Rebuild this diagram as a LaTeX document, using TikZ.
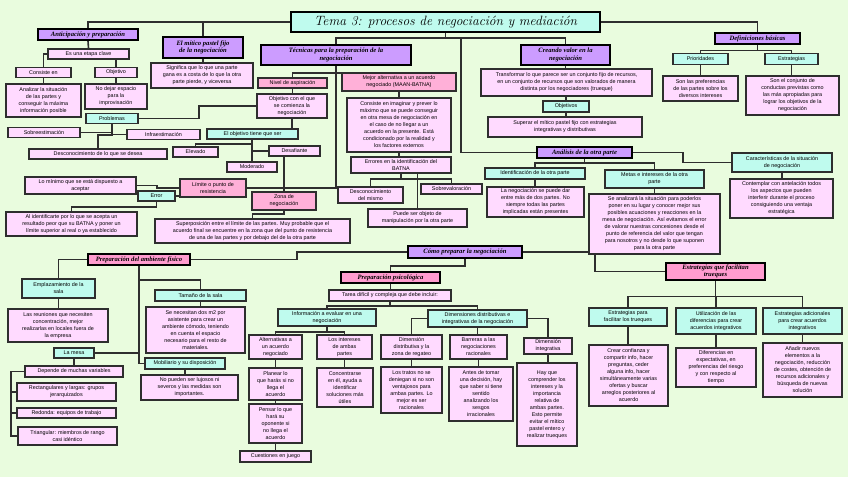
\documentclass[tikz,border=0pt]{standalone}
\usepackage{fontspec}
\newfontfamily\bodyf{Liberation Sans}
\newfontfamily\headf{Liberation Serif}
\usetikzlibrary{calc}
\definecolor{bgC}{HTML}{E9FCDE}
\definecolor{pinkC}{HTML}{FFDAFF}
\definecolor{cyanC}{HTML}{BFFBEE}
\definecolor{roseC}{HTML}{FFB0D8}
\definecolor{purpC}{HTML}{CC9CFF}
\definecolor{hpinkC}{HTML}{FF9CCF}
\definecolor{lineC}{HTML}{2E2E2E}
\pgfdeclarelayer{bg}
\pgfsetlayers{bg,main}
\newcommand\mybox[6]{\node[#1,minimum width=#4pt,minimum height=#5pt] (#2) at (#3) {#6};}
\tikzset{
 base/.style={draw=lineC, line width=1.5pt, align=center, inner sep=0pt, font=\bodyf\fontsize{5.4}{7}\selectfont},
 pbox/.style={base, fill=pinkC},
 cbox/.style={base, fill=cyanC},
 rbox/.style={base, fill=roseC},
 hbox/.style={draw=black, line width=1.8pt, fill=purpC, align=center, inner sep=0pt, font=\headf\bfseries\itshape\fontsize{6.6}{7.4}\selectfont},
 hpbox/.style={hbox, fill=hpinkC},
 tbox/.style={draw=black, line width=1.8pt, fill=cyanC, align=center, inner sep=0pt, font=\itshape\fontsize{13.5}{15}\selectfont},
 conn/.style={draw=lineC, line width=1.6pt},
}
\begin{document}
\begin{tikzpicture}[x=1pt,y=-1pt]
\useasboundingbox (0,0) rectangle (848,477);
% title
\node[tbox, minimum width=309pt, minimum height=20pt] (title) at (445.5,22) {Tema 3: procesos de negociación y mediación};
% headers
\mybox{hbox}{anti}{88,34.5}{100}{11}{Anticipación y preparación}
\mybox{hbox}{pastel}{203,47.5}{80}{21}{El mítico pastel fijo\\de la negociación}
\mybox{hbox}{tec}{336,55}{150}{20}{Técnicas para la preparación de la\\negociación}
\mybox{hbox}{crea}{565.5,55}{89}{20}{Creando valor en la\\negociación}
\mybox{hbox}{defi}{757.5,38.5}{85}{11}{Definiciones básicas}
\mybox{hbox}{anal}{584.5,152.5}{95}{11}{Análisis de la otra parte}
\mybox{hbox}{como}{465,252}{114}{12}{Cómo preparar la negociación}
\mybox{hpbox}{amb}{139,259.5}{102}{11}{Preparación del ambiente físico}
\mybox{hpbox}{psico}{390.5,277.5}{99}{11}{Preparación psicológica}
\mybox{hpbox}{estr}{715.5,271.5}{99}{17}{Estrategias que facilitan\\trueques}
% rose
\mybox{rbox}{nivel}{292.5,83}{69}{10}{Nivel de aspiración}
\mybox{rbox}{mejor}{399,82}{114}{18}{Mejor alternativa a un acuerdo\\negociado (MAAN-BATNA)}
\mybox{rbox}{limite}{213,188}{66}{18}{Límite o punto de\\resistencia}
\mybox{rbox}{zona}{284,201}{64}{18}{Zona de\\negociación}
% anticipacion
\mybox{pbox}{etapa}{88.5,54}{81}{10}{Es una etapa clave}
\mybox{pbox}{consiste}{43.5,72.5}{55}{10}{Consiste en}
\mybox{pbox}{objetivo}{116,72.5}{42}{10}{Objetivo}
\mybox{pbox}{analizar}{43.5,100.5}{75}{33}{Analizar la situación\\de las partes y\\conseguir la máxima\\información posible}
\mybox{pbox}{nodejar}{116,96.5}{62}{25}{No dejar espacio\\para la\\improvisación}
\mybox{cbox}{problemas}{112,118.5}{52}{10}{Problemas}
\mybox{pbox}{sobre}{44,132.5}{72}{10}{Sobreestimación}
\mybox{pbox}{infra}{163.5,134.5}{73}{10}{Infraestimación}
\mybox{pbox}{desco}{98,154}{138}{10}{Desconocimiento de lo que se desea}
% pastel
\mybox{pbox}{signif}{202,75.5}{102}{25}{Significa que lo que una parte\\gana es a costa de lo que la otra\\parte pierde, y viceversa}
% tecnicas
\mybox{pbox}{objcom}{292,106}{70}{24}{Objetivo con el que\\se comienza la\\negociación}
\mybox{cbox}{elobj}{252.5,134}{91}{10}{El objetivo tiene que ser}
\mybox{pbox}{elevado}{195.5,152}{45}{10}{Elevado}
\mybox{pbox}{desaf}{294.5,151}{51}{10}{Desafiante}
\mybox{pbox}{moder}{252,167}{50}{10}{Moderado}
\mybox{pbox}{consmejor}{399,125}{104}{54}{Consiste en imaginar y prever lo\\máximo que se puede conseguir\\en otra mesa de negociación en\\el caso de no llegar a un\\acuerdo en la presente. Está\\condicionado por la realidad y\\los factores externos}
\mybox{pbox}{errores}{401,165}{100}{16}{Errores en la identificación del\\BATNA}
\mybox{pbox}{descmismo}{370.5,195}{65}{16}{Desconocimiento\\del mismo}
\mybox{pbox}{sobreval}{451.5,189}{61}{10}{Sobrevaloración}
\mybox{pbox}{puede}{417.5,218}{99}{18}{Puede ser objeto de\\manipulación por la otra parte}
\mybox{pbox}{minimo}{80.5,185.5}{111}{17}{Lo mínimo que se está dispuesto a\\aceptar}
\mybox{cbox}{error}{156.5,196}{37}{10}{Error}
\mybox{pbox}{alident}{71.5,224}{131}{24}{Al identificarte por lo que se acepta un\\resultado peor que su BATNA y poner un\\límite superior al real o ya establecido}
\mybox{pbox}{superp}{252.5,231}{195}{24}{Superposición entre el límite de las partes. Muy probable que el\\acuerdo final se encuentre en la zona que del punto de resistencia\\de una de las partes y por debajo del de la otra parte}
% creando valor
\mybox{pbox}{transf}{566.5,82.5}{171}{27}{Transformar lo que parece ser un conjunto fijo de recursos,\\en un conjunto de recursos que son valorados de manera\\distinta por los negociadores (trueque)}
\mybox{cbox}{objetivos}{566,106.5}{46}{11}{Objetivos}
\mybox{pbox}{superar}{565,127}{154}{20}{Superar el mítico pastel fijo con estrategias\\integrativas y distributivas}
% definiciones
\mybox{cbox}{prior}{700.5,59}{55}{11}{Prioridades}
\mybox{cbox}{estrat}{791.5,59}{53}{11}{Estrategias}
\mybox{pbox}{sonpref}{700.5,88.5}{75}{25}{Son las preferencias\\de las partes sobre los\\diversos intereses}
\mybox{pbox}{sonconj}{792.5,95.5}{93}{39}{Son el conjunto de\\conductas previstas como\\las más apropiadas para\\lograr los objetivos de la\\negociación}
% analisis
\mybox{cbox}{ident}{535,173.5}{100}{11}{Identificación de la otra parte}
\mybox{cbox}{metas}{654.5,179}{99}{18}{Metas e intereses de la otra\\parte}
\mybox{cbox}{caract}{782,162.5}{100}{19}{Características de la situación\\de negociación}
\mybox{pbox}{lanego}{535.5,202}{97}{30}{La negociación se puede dar\\entre más de dos partes. No\\siempre todas las partes\\implicadas están presentes}
\mybox{pbox}{seanal}{654.5,224}{131}{60}{Se analizará la situación para poderlos\\poner en su lugar y conocer mejor sus\\posibles acuaciones y reacciones en la\\mesa de negociación. Así evitamos el error\\de valorar nuestras concesiones desde el\\punto de referencia del valor que tengan\\para nosotros y no desde lo que suponen\\para la otra parte}
\mybox{pbox}{contem}{781.5,198.5}{103}{39}{Contemplar con antelación todos\\los aspectos que pueden\\interferir durante el proceso\\consiguiendo una ventaja\\estratégica}
% ambiente fisico
\mybox{cbox}{empl}{58.5,288.5}{73}{19}{Emplazamiento de la\\sala}
\mybox{pbox}{reun}{58,325.5}{100}{33}{Las reuniones que necesiten\\concentración, mejor\\realizarlas en locales fuera de\\la empresa}
\mybox{cbox}{tam}{200.5,295.5}{91}{11}{Tamaño de la sala}
\mybox{pbox}{senec}{195.5,330}{99}{46}{Se necesitan dos m2 por\\asistente para crear un\\ambiente cómodo, teniendo\\en cuenta el espacio\\necesario para el resto de\\materiales.}
\mybox{cbox}{mesa}{74,353}{40}{10}{La mesa}
\mybox{cbox}{mobil}{185,363.5}{80}{11}{Mobiliario y su disposición}
\mybox{pbox}{nopued}{189.5,387.5}{97}{25}{No pueden ser lujosos ni\\severos y las medidas son\\importantes.}
\mybox{pbox}{depende}{74,371.5}{98}{11}{Depende de muchas variables}
\mybox{pbox}{rect}{66.5,392}{99}{18}{Rectangulares y largas: grupos\\jerarquizados}
\mybox{pbox}{redonda}{66.5,413}{99}{10}{Redonda: equipos de trabajo}
\mybox{pbox}{triang}{67.5,436}{99}{18}{Triangular: miembros de rango\\casi idéntico}
% psicologica
\mybox{pbox}{tarea}{390,295.5}{122}{11}{Tarea difícil y compleja que debe incluir:}
\mybox{cbox}{info}{327,317.5}{98}{17}{Información a evaluar en una\\negociación}
\mybox{cbox}{dims}{477.5,318.5}{99}{17}{Dimensiones distributivas e\\integrativas de la negociación}
\mybox{pbox}{altern}{275.5,347}{53}{24}{Alternativas a\\un acuerdo\\negociado}
\mybox{pbox}{losint}{344.5,347}{55}{24}{Los intereses\\de ambas\\partes}
\mybox{pbox}{planear}{275.5,384}{53}{32}{Planear lo\\que harás si no\\llega el\\acuerdo}
\mybox{pbox}{pensar}{275.5,423.5}{53}{39}{Pensar lo que\\hará su\\oponente si\\no llega el\\acuerdo}
\mybox{pbox}{cuest}{275.5,456.5}{71}{11}{Cuestiones en juego}
\mybox{pbox}{concen}{345,387.5}{56}{39}{Concentrarse\\en él, ayuda a\\identificar\\soluciones más\\útiles}
\mybox{pbox}{dimdis}{411.5,347}{61}{24}{Dimensión\\distributiva y la\\zona de regateo}
\mybox{pbox}{tratos}{411.5,390}{61}{46}{Los tratos no se\\deniegan si no son\\ventajosos para\\ambas partes. Lo\\mejor es ser\\racionales}
\mybox{pbox}{barr}{478.5,347}{57}{24}{Barreras a las\\negociaciones\\racionales}
\mybox{pbox}{antes}{481,394}{64}{54}{Antes de tomar\\una decisión, hay\\que saber si tiene\\sentido\\analizando los\\sesgos\\irracionales}
\mybox{pbox}{dimint}{548,346}{48}{16}{Dimensión\\integrativa}
\mybox{pbox}{hayque}{547,404.5}{60}{83}{Hay que\\comprender los\\intereses y la\\importancia\\relativa de\\ambas partes.\\Esto permite\\evitar el mítico\\pastel entero y\\realizar trueques}
% estrategias
\mybox{cbox}{estpara}{628,317}{78}{18}{Estrategias para\\facilitar los trueques}
\mybox{cbox}{util}{716,321}{80}{26}{Utilización de las\\diferencias para crear\\acuerdos integrativos}
\mybox{cbox}{estad}{802.5,321}{79}{26}{Estrategias adicionales\\para crear acuerdos\\integrativos}
\mybox{pbox}{crear}{628.5,375.5}{79}{61}{Crear confianza y\\compartir info, hacer\\preguntas, ceder\\alguna info, hacer\\simultáneamente varias\\ofertas y buscar\\arreglos posteriores al\\acuerdo}
\mybox{pbox}{difer}{716,367.5}{80}{39}{Diferencias en\\expectativas, en\\preferencias del riesgo\\y con respecto al\\tiempo}
\mybox{pbox}{anadir}{802.5,370}{79}{54}{Añadir nuevos\\elementos a la\\negociación, reducción\\de costes, obtención de\\recursos adicionales y\\búsqueda de nuevas\\solución}
\coordinate (j1) at (461,37);
\coordinate (mtop) at (11,371.5);
\coordinate (mbot) at (11,436);
\begin{pgfonlayer}{bg}
\fill[bgC] (0,0) rectangle (848,477);
% title
\draw[conn] (title.west) -| (anti.north);
\draw[conn] (title.west) -| (pastel.north);
\draw[conn] (title.east) -| (defi.north);
\draw[conn] (title.south) -- ++(0,5) -| (tec.north);
\draw[conn] (title.south) -- ++(0,5) -| (crea.north);
\draw[conn] (j1) |- (anal.west);
% anticipacion
\draw[conn] (anti.south) -- (etapa.north);
\draw[conn] (etapa.west) -| (consiste.north);
\draw[conn] (objetivo.north) -- (objetivo.north |- etapa.south);
\draw[conn] (consiste.south) -- (analizar.north);
\draw[conn] (objetivo.south) -- (nodejar.north);
\draw[conn] (problemas.east) -- ++(60,0) |- (objcom.west);
\draw[conn] (problemas.south) |- (sobre.east);
\draw[conn] (problemas.south) |- (infra.west);
\draw[conn] (problemas.south) -- ++(0,10.5) -| (desco.north);
% pastel
\draw[conn] (pastel.south) -- (pastel.south |- signif.north);
% tecnicas
\draw[conn] (tec.south) -- ++(0,7) -| (nivel.north);
\draw[conn] (tec.south) -- ++(0,7) -| (mejor.north);
\draw[conn] (nivel.south) -- (nivel.south |- objcom.north);
\draw[conn] (objcom.south) -- (objcom.south |- elobj.north);
\draw[conn] (elobj.south) -- ++(0,4) -| (elevado.north);
\draw[conn] (elobj.south) |- (desaf.west);
\draw[conn] (moder.north |- elobj.south) -- (moder.north);
\draw[conn] (tec.south) |- (limite.east);
\draw[conn] (zona.north) -- (zona.north |- desaf.south);
\draw[conn] (limite.west) -- ++(-22,0) |- (minimo.east);
\draw[conn] (error.east) -- (error.east -| limite.west);
\draw[conn] (error.south) -- ++(0,5) -| (alident.north);
\draw[conn] (zona.south) -- ++(0,3) -| (superp.north);
\draw[conn] (mejor.south) -- (consmejor.north);
\draw[conn] (consmejor.south) -- (consmejor.south |- errores.north);
\draw[conn] (errores.south) -- ++(0,5) -| (descmismo.north);
\draw[conn] (errores.south) -- ++(0,5) -| (sobreval.north);
\draw[conn] (puede.north) -- (puede.north |- errores.south);
% creando valor
\draw[conn] (crea.south) -- (crea.south |- transf.north);
\draw[conn] (objetivos.north |- transf.south) -- (objetivos.north);
\draw[conn] (objetivos.south) -- (objetivos.south |- superar.north);
% definiciones
\draw[conn] (defi.south) -- ++(0,5.5) -| (prior.north);
\draw[conn] (defi.south) -- ++(0,5.5) -| (estrat.north);
\draw[conn] (prior.south) -- (sonpref.north);
\draw[conn] (estrat.south) -- (estrat.south |- sonconj.north);
% analisis
\draw[conn] (anal.south) -- ++(0,4) -| (ident.north);
\draw[conn] (anal.south) -- ++(0,4) -| (metas.north);
\draw[conn] (anal.east) -- ++(50,0) |- (caract.west);
\draw[conn] (ident.south) -- (ident.south |- lanego.north);
\draw[conn] (metas.south) -- (seanal.north);
\draw[conn] (caract.south) -- (caract.south |- contem.north);
% como preparar
\draw[conn] (como.west) -- ++(-110,0) |- (amb.east);
\draw[conn] (como.east) -- ++(72,0) |- (estr.west);
\draw[conn] (como.south) -- ++(0,7) -| (psico.north);
% ambiente
\draw[conn] (amb.west) -| (empl.north);
\draw[conn] (amb.south) -- ++(0,14) -| (tam.north);
\draw[conn] (amb.south) |- (mobil.west);
\draw[conn] (mesa.east) -- (mesa.east -| amb.south);
\draw[conn] (empl.south) -- (empl.south |- reun.north);
\draw[conn] (tam.south) -- (tam.south |- senec.north);
\draw[conn] (mobil.south) -- (mobil.south |- nopued.north);
\draw[conn] (mesa.south) -- (depende.north);
\draw[conn] (depende.west) -- (mtop) -- (mbot) -- (triang.west);
\draw[conn] (rect.west) -- (rect.west -| mtop);
\draw[conn] (redonda.west) -- (redonda.west -| mtop);
% psicologica
\draw[conn] (psico.south) -- (psico.south |- tarea.north);
\draw[conn] (tarea.south) -- ++(0,4.5) -| (info.north);
\draw[conn] (tarea.south) -- ++(0,4.5) -| (dims.north);
\draw[conn] (info.south) -- ++(0,5) -| (altern.north);
\draw[conn] (info.south) -- ++(0,5) -| (losint.north);
\draw[conn] (altern.south) -- (planear.north);
\draw[conn] (planear.south) -- (pensar.north);
\draw[conn] (pensar.south) -- (cuest.north);
\draw[conn] (losint.south) -- (losint.south |- concen.north);
\draw[conn] (dims.west) -| (dimdis.north);
\draw[conn] (dims.south) -- (dims.south |- barr.north);
\draw[conn] (barr.south) -- (barr.south |- antes.north);
\draw[conn] (dims.east) -| (dimint.north);
\draw[conn] (dimint.south) -- (dimint.south |- hayque.north);
\draw[conn] (dimdis.south) -- (tratos.north);
% estrategias
\draw[conn] (estr.south) -- ++(0,15.5) -| (estpara.north);
\draw[conn] (estr.south) -- ++(0,15.5) -| (util.north);
\draw[conn] (estr.south) -- ++(0,15.5) -| (estad.north);
\draw[conn] (estpara.south) -- (estpara.south |- crear.north);
\draw[conn] (util.south) -- (difer.north);
\draw[conn] (estad.south) -- (anadir.north);
\end{pgfonlayer}
\end{tikzpicture}
\end{document}
